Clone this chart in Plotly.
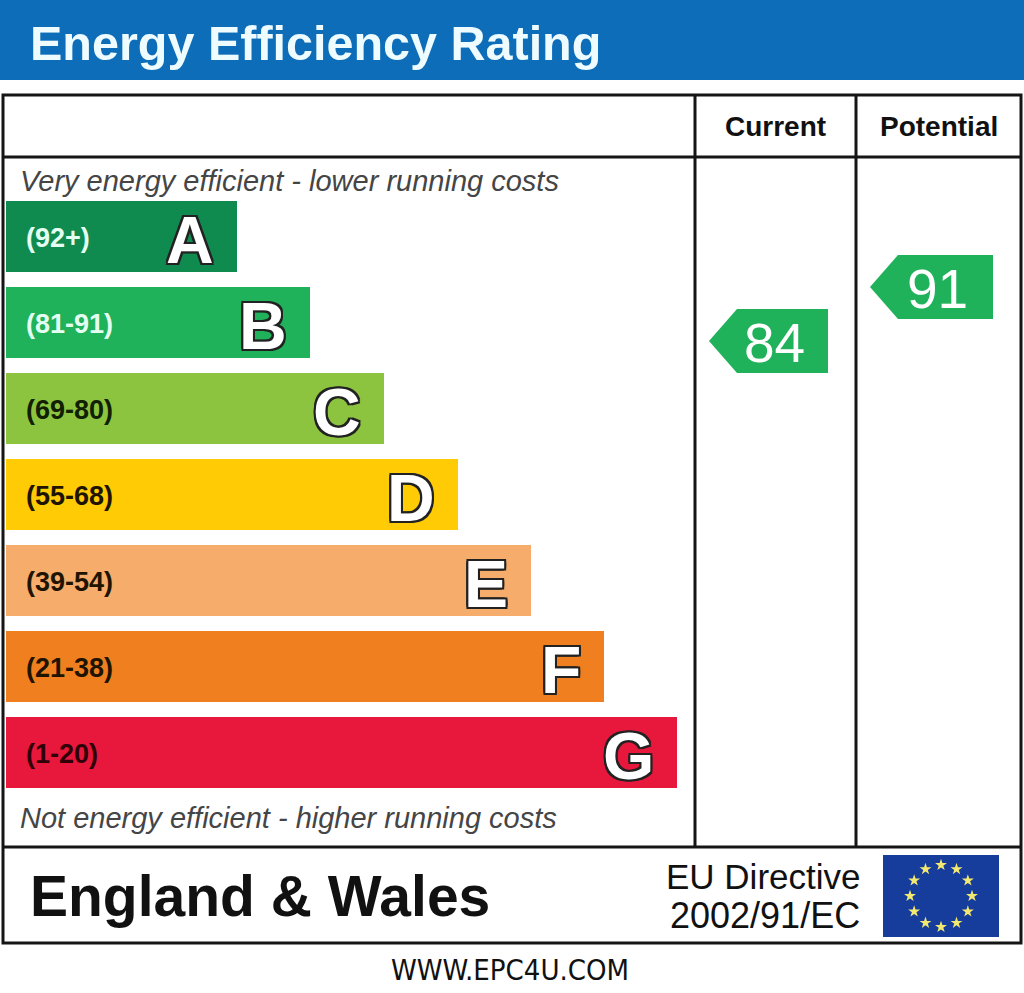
import numpy as np
import plotly.graph_objects as go

# --- data ---
bands = ["A", "B", "C", "D", "E", "F", "G"]
band_ranges = ["(92+)", "(81-91)", "(69-80)", "(55-68)", "(39-54)", "(21-38)", "(1-20)"]
band_lengths = [231, 304, 378, 452, 525, 598, 671]
band_colors = ["#0f8b50", "#1fb25a", "#8cc43f", "#fecb05", "#f6ad6c", "#f0801f", "#e8173c"]
range_text_colors = ["#e4fff2", "#e4fff2", "#102000", "#201400", "#201400", "#201400", "#300008"]
current_rating = 84
potential_rating = 91

# --- layout constants (pixels) ---
W, H = 1024, 993
BAR_X0, BAR_TOP, BAR_PITCH, BAR_H = 6, 201, 86, 71
COL_CUR = (695, 856)
COL_POT = (856, 1021)
FONT = "Liberation Sans, Arial, sans-serif"
OUTLINE = "-2px -2px 0 #222, 2px -2px 0 #222, -2px 2px 0 #222, 2px 2px 0 #222, 0 2px 0 #222, 0 -2px 0 #222, 2px 0 0 #222, -2px 0 0 #222"


def rating_y(v):
    # position of an arrow on the vertical rating scale
    return 989 - v * 54 / 7


centers = [BAR_TOP + BAR_H / 2 + i * BAR_PITCH for i in range(len(bands))]

fig = go.Figure()

# === rating bands ===
fig.add_trace(go.Bar(
    orientation="h",
    y=centers,
    x=band_lengths,
    base=BAR_X0,
    width=BAR_H,
    marker=dict(color=band_colors, line=dict(width=0)),
    hoverinfo="skip",
    showlegend=False,
))

annotations = []
for i, b in enumerate(bands):
    annotations.append(dict(
        x=24, y=centers[i] + 1, text="<b>%s</b>" % band_ranges[i],
        xanchor="left", yanchor="middle",
        font=dict(family=FONT, size=27, color=range_text_colors[i]),
    ))
    annotations.append(dict(
        x=BAR_X0 + band_lengths[i] - 21, y=centers[i] + 3, text="<b>%s</b>" % b,
        xanchor="right", yanchor="middle",
        font=dict(family=FONT, size=66, color="white", shadow=OUTLINE),
    ))


# === current / potential arrows ===
def add_arrow(col, value):
    yc = rating_y(value)
    tip, body, right = col[0] + 14, col[0] + 42, col[1] - 28
    fig.add_trace(go.Scatter(
        x=[tip, body, right, right, body, tip],
        y=[yc, yc - 32, yc - 32, yc + 32, yc + 32, yc],
        fill="toself", fillcolor="#1fb25a", mode="lines", line=dict(width=0, color="#1fb25a"),
        hoverinfo="skip", showlegend=False,
    ))
    annotations.append(dict(
        x=(body + right) / 2 - 8, y=yc + 2, text=str(value),
        xanchor="center", yanchor="middle",
        font=dict(family=FONT, size=55, color="white"),
    ))


add_arrow(COL_CUR, current_rating)
add_arrow(COL_POT, potential_rating)

# === EU flag stars ===
ang = np.linspace(0, 2 * np.pi, 12, endpoint=False)
fig.add_trace(go.Scatter(
    x=941 + 31 * np.cos(ang), y=896 + 31 * np.sin(ang),
    mode="markers", marker=dict(symbol="star", size=9, color="#f3e970"),
    hoverinfo="skip", showlegend=False,
))

# === frame and header ===
line = dict(color="#151515", width=3)
shapes = [
    dict(type="rect", x0=0, x1=W, y0=0, y1=80, fillcolor="#0d6db8", line=dict(width=0), layer="below"),
    dict(type="rect", x0=3, x1=1021, y0=95, y1=943, line=line),
    dict(type="line", x0=3, x1=1021, y0=157, y1=157, line=line),
    dict(type="line", x0=3, x1=1021, y0=847, y1=847, line=line),
    dict(type="line", x0=COL_CUR[0], x1=COL_CUR[0], y0=95, y1=847, line=line),
    dict(type="line", x0=COL_CUR[1], x1=COL_CUR[1], y0=95, y1=847, line=line),
    dict(type="rect", x0=883, x1=999, y0=855, y1=937, fillcolor="#163c9c", line=dict(width=0), layer="below"),
]

annotations += [
    dict(x=28, y=43, text="<b>Energy Efficiency Rating</b>", xanchor="left", yanchor="middle",
         font=dict(family=FONT, size=48.5, color="#eefcff")),
    dict(x=sum(COL_CUR) / 2, y=126, text="<b>Current</b>", xanchor="center", yanchor="middle",
         font=dict(family=FONT, size=28, color="#111")),
    dict(x=sum(COL_POT) / 2, y=126, text="<b>Potential</b>", xanchor="center", yanchor="middle",
         font=dict(family=FONT, size=28, color="#111")),
    dict(x=18, y=181, text="<i>Very energy efficient - lower running costs</i>", xanchor="left", yanchor="middle",
         font=dict(family=FONT, size=29, color="#454545")),
    dict(x=18, y=818, text="<i>Not energy efficient - higher running costs</i>", xanchor="left", yanchor="middle",
         font=dict(family=FONT, size=29, color="#454545")),
    dict(x=28, y=896, text="<b>England & Wales</b>", xanchor="left", yanchor="middle",
         font=dict(family=FONT, size=57, color="#111")),
    dict(x=862, y=876, text="EU Directive", xanchor="right", yanchor="middle",
         font=dict(family=FONT, size=35, color="#111")),
    dict(x=862, y=915, text="2002/91/EC", xanchor="right", yanchor="middle",
         font=dict(family=FONT, size=36, color="#111")),
    dict(x=510, y=970, text="WWW.EPC4U.COM", xanchor="center", yanchor="middle",
         font=dict(family="DejaVu Sans Condensed, DejaVu Sans, sans-serif", size=29, color="#111")),
]
for a in annotations:
    a["showarrow"] = False
    a["xref"] = "x"
    a["yref"] = "y"

fig.update_layout(
    width=W, height=H,
    margin=dict(l=0, r=0, t=0, b=0),
    paper_bgcolor="white", plot_bgcolor="white",
    xaxis=dict(range=[0, W], visible=False, fixedrange=True),
    yaxis=dict(range=[H, 0], visible=False, fixedrange=True),
    shapes=shapes,
    annotations=annotations,
    bargap=0,
)

fig.write_html("out.html", config={"displayModeBar": False},
               post_script="document.body.style.margin='0';document.body.style.overflow='hidden';")
